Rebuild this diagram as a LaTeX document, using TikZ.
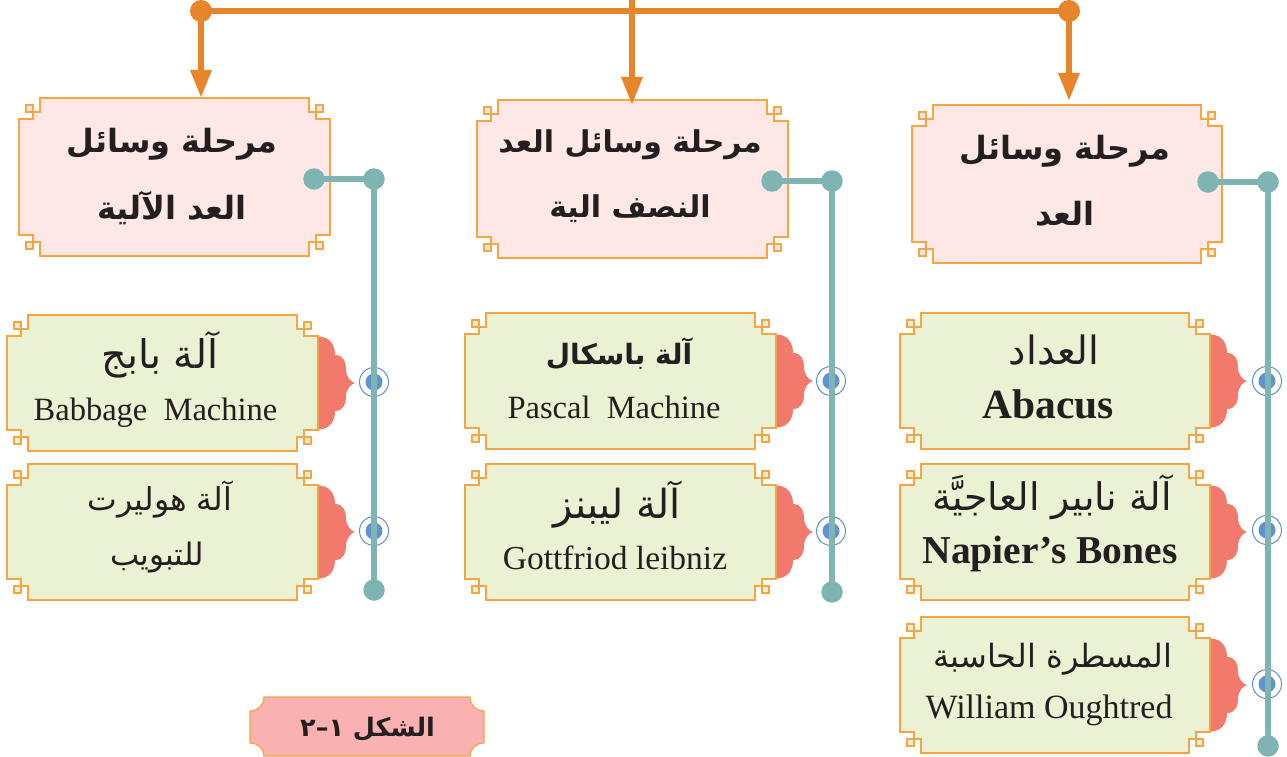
\documentclass[tikz,border=0pt]{standalone}
\usepackage{fontspec}
\setmainfont{Liberation Serif}
\newfontfamily\arabicfont[Script=Arabic]{DejaVu Sans}
\TeXXeTstate=1
\usetikzlibrary{arrows.meta}
\definecolor{inkc}{HTML}{231F20}
\definecolor{edgec}{HTML}{F7A441}
\definecolor{orangec}{HTML}{E8842A}
\definecolor{tealc}{HTML}{7EB5B3}
\definecolor{pinkc}{HTML}{FDE8E6}
\definecolor{greenc}{HTML}{EBF1D3}
\definecolor{redc}{HTML}{F27A6C}
\definecolor{bluec}{HTML}{5F93CF}
\definecolor{labelc}{HTML}{F9B1B1}
\newcommand\AR[2]{{\fontsize{#1}{#1}\selectfont\arabicfont #2}}
\newcommand\ARB[2]{{\fontsize{#1}{#1}\selectfont\arabicfont\bfseries #2}}
\newcommand\LT[2]{{\fontsize{#1}{#1}\selectfont #2}}
\newcommand\LTB[2]{{\fontsize{#1}{#1}\selectfont\bfseries #2}}
\newcommand\plaque[6]{%
  \pgfmathsetmacro\xa{#2+21}\pgfmathsetmacro\xb{#4-21}%
  \pgfmathsetmacro\ya{#3+21}\pgfmathsetmacro\yb{#5-21}%
  \pgfmathsetmacro\xc{#2+14}\pgfmathsetmacro\xd{#4-14}%
  \pgfmathsetmacro\yc{#3+14}\pgfmathsetmacro\yd{#5-14}%
  \pgfmathsetmacro\xe{#2+7}\pgfmathsetmacro\xf{#4-7}%
  \pgfmathsetmacro\ye{#3+7}\pgfmathsetmacro\yf{#5-7}%
  \path[plaqueline,fill=#6] (\xe,\ye) rectangle (\xc,\yc) (\xf,\ye) rectangle (\xd,\yc)
     (\xe,\yf) rectangle (\xc,\yd) (\xf,\yf) rectangle (\xd,\yd);
  \path[plaqueline,fill=#6] (\xa,#3) -- (\xb,#3) -- (\xb,\yc) -- (\xd,\yc) -- (\xd,\ya) -- (#4,\ya)
     -- (#4,\yb) -- (\xd,\yb) -- (\xd,\yd) -- (\xb,\yd) -- (\xb,#5) -- (\xa,#5) -- (\xa,\yd)
     -- (\xc,\yd) -- (\xc,\yb) -- (#2,\yb) -- (#2,\ya) -- (\xc,\ya) -- (\xc,\yc) -- (\xa,\yc) -- cycle;
}
\newcommand\twolines[7]{% name cx1 base1 text1 cx2 base2 text2
  \node[linetext] (#1a) at (#2,#3) {#4};
  \node[linetext] (#1b) at (#5,#6) {#7};
}
\newcommand\scallop[2]{%
  \fill[redc,shift={(#1,#2)}] (0,-46.5) .. controls (12,-46.5) and (17,-38) .. (17,-28)
    .. controls (26,-28) and (28,-20) .. (28,-14) .. controls (28,-6) and (33,-1) .. (37,0)
    .. controls (33,1) and (28,6) .. (28,14) .. controls (28,20) and (26,28) .. (17,28)
    .. controls (17,38) and (12,46.5) .. (0,46.5) -- cycle;
}
\tikzset{
  plaqueline/.style={draw=edgec,line width=1.2pt},
  linetext/.style={inner sep=0pt,anchor=base,text=inkc},
  orangeline/.style={draw=orangec,line width=6pt},
  orangedot/.style={circle,fill=orangec,minimum size=22pt,inner sep=0pt,outer sep=0pt},
  tealline/.style={draw=tealc,line width=6pt},
  tealdot/.style={circle,fill=tealc,minimum size=21.5pt,inner sep=0pt,outer sep=0pt},
  ringmark/.style={circle,draw=bluec,line width=1pt,fill=white,minimum size=29pt,inner sep=0pt},
  bluemark/.style={circle,fill=bluec,minimum size=17pt,inner sep=0pt},
  arrowed/.style={-{Triangle[length=28pt,width=20pt]}}
}
\begin{document}
\begin{tikzpicture}[x=1pt,y=-1pt]
\useasboundingbox (0,0) rectangle (1287,757);
\fill[white] (0,0) rectangle (1287,757);
% scallops
\scallop{1210}{381}\scallop{1210}{532}\scallop{1210}{685}
\scallop{776}{381}\scallop{776}{532}
\scallop{318}{383}\scallop{318}{532}
% header plaques
\plaque{hA}{912}{105}{1222}{263}{pinkc}
\twolines{hA}{1065}{160}{\ARB{32}{\beginR مرحلة وسائل\endR}}{1065}{225}{\ARB{32}{\beginR العد\endR}}
\plaque{hB}{477}{100}{788}{258}{pinkc}
\twolines{hB}{630}{153}{\ARB{30}{\beginR مرحلة وسائل العد\endR}}{630}{217}{\ARB{30}{\beginR النصف الية\endR}}
\plaque{hC}{19}{98}{330}{256}{pinkc}
\twolines{hC}{172}{153}{\ARB{32}{\beginR مرحلة وسائل\endR}}{172}{219}{\ARB{32}{\beginR العد الآلية\endR}}
% items
\plaque{a1}{900}{313}{1210}{449}{greenc}
\twolines{a1}{1054}{364}{\AR{39}{\beginR العداد\endR}}{1048}{418}{\LTB{41.5}{Abacus}}
\plaque{a2}{900}{464}{1210}{600}{greenc}
\twolines{a2}{1052}{510}{\AR{38}{\beginR آلة نابير العاجيَّة\endR}}{1050}{563}{\LTB{39.5}{Napier’s Bones}}
\plaque{a3}{900}{617}{1210}{753}{greenc}
\twolines{a3}{1053}{667}{\AR{32}{\beginR المسطرة الحاسبة\endR}}{1049}{718}{\LT{34}{William Oughtred}}
\plaque{b1}{465}{313}{776}{449}{greenc}
\twolines{b1}{619}{364}{\ARB{28}{\beginR آلة باسكال\endR}}{614}{418}{\LT{32.5}{Pascal\hspace{.25em} Machine}}
\plaque{b2}{465}{464}{776}{600}{greenc}
\twolines{b2}{617}{518}{\AR{40}{\beginR آلة ليبنز\endR}}{615}{569}{\LT{33.5}{Gottfriod leibniz}}
\plaque{c1}{7}{315}{318}{451}{greenc}
\twolines{c1}{160}{368}{\AR{39.5}{\beginR آلة بابج\endR}}{155.5}{420}{\LT{32.5}{Babbage\hspace{.25em} Machine}}
\plaque{c2}{7}{464}{318}{600}{greenc}
\twolines{c2}{160}{510}{\AR{31.5}{\beginR آلة هوليرت\endR}}{157}{565}{\AR{31}{\beginR للتبويب\endR}}
% figure label
\path[plaqueline,fill=labelc] (264,697) -- (470,697) .. controls (470,705) and (476,711) .. (484,711)
  -- (484,743) .. controls (476,743) and (470,749) .. (470,756) -- (264,756)
  .. controls (264,749) and (258,743) .. (250,743) -- (250,711) .. controls (258,711) and (264,705) .. (264,697) -- cycle;
\node[linetext] (fig) at (367.5,736) {\ARB{25.5}{\beginR الشكل ١–٢\endR}};
% orange connectors
\node[orangedot] (oL) at (201,11) {};
\node[orangedot] (oR) at (1069,11) {};
\coordinate (oM) at (632,0);
\coordinate (tipL) at (201,98);
\coordinate (tipM) at (632,105);
\coordinate (tipR) at (1069,101);
\draw[orangeline] (oL.center) -- (oR.center);
\draw[orangeline,arrowed] (oL.center) -- (tipL);
\draw[orangeline,arrowed] (oM) -- (tipM);
\draw[orangeline,arrowed] (oR.center) -- (tipR);
% targets
\foreach \n/\x/\y in {a/1267/381,b/1267/530,c/1267/684,d/831/381,e/831/531,f/374/382,g/374/531}{
  \node[ringmark] (r\n) at (\x,\y) {};
  \node[bluemark] (m\n) at (\x,\y) {};
}
% teal connectors
\node[tealdot] (tA1) at (1208,182) {};
\node[tealdot] (tA2) at (1268,182) {};
\node[tealdot] (tA3) at (1268,746) {};
\node[tealdot] (tB1) at (772,181) {};
\node[tealdot] (tB2) at (832,181) {};
\node[tealdot] (tB3) at (832,592) {};
\node[tealdot] (tC1) at (314,179) {};
\node[tealdot] (tC2) at (374,179) {};
\node[tealdot] (tC3) at (374,590) {};
\draw[tealline] (tA1.center) -- (tA2.center) -- (tA3.center);
\draw[tealline] (tB1.center) -- (tB2.center) -- (tB3.center);
\draw[tealline] (tC1.center) -- (tC2.center) -- (tC3.center);
\end{tikzpicture}
\end{document}
